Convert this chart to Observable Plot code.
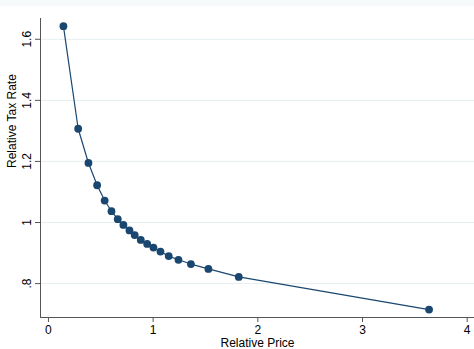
<!DOCTYPE html>
<html>
<head>
<meta charset="utf-8">
<script src="https://cdn.jsdelivr.net/npm/d3@7"></script>
<script src="https://cdn.jsdelivr.net/npm/@observablehq/plot@0.6"></script>
<style>
  html, body { margin: 0; padding: 0; background: #fff; }
  #chart svg { display: block; }
</style>
</head>
<body>
<div id="chart"></div>
<script>
const relativePrice = [0.143, 0.284, 0.382, 0.465, 0.537, 0.602, 0.662, 0.716, 0.774, 0.824,
                       0.882, 0.943, 1.003, 1.070, 1.149, 1.242, 1.361, 1.528, 1.818, 3.636];
const relativeTaxRate = [1.643, 1.307, 1.195, 1.122, 1.072, 1.037, 1.011, 0.992, 0.974, 0.959,
                         0.943, 0.930, 0.918, 0.905, 0.890, 0.878, 0.864, 0.848, 0.822, 0.715];
const xTicks = [0, 1, 2, 3, 4];
const yTicks = [0.8, 1, 1.2, 1.4, 1.6];
const yTickLabels = [".8", "1", "1.2", "1.4", "1.6"];

const data = relativePrice.map((x, i) => ({x, y: relativeTaxRate[i]}));
const yTickData = yTicks.map((v, i) => ({v, label: yTickLabels[i]}));
const navy = "#1a476f";

const chart = Plot.plot({
  width: 474,
  height: 349,
  marginLeft: 40,
  marginRight: 0,
  marginTop: 18,
  marginBottom: 32,
  style: {
    fontFamily: "'Liberation Sans', Arial, sans-serif", fontSize: "12px", color: "#000",
    background: "linear-gradient(#f7fafb 0px, #f7fafb 6px, #ffffff 6px)"
  },
  x: {domain: [-0.076, 4.07]},
  y: {domain: [0.689, 1.668]},
  marks: [
    Plot.gridY(yTicks, {stroke: "#e6eef0", strokeOpacity: 1, strokeWidth: 1}),
    Plot.axisY(yTicks, {tickSize: 5, tickFormat: () => "", stroke: "#555", label: null}),
    Plot.text(yTickData, {
      y: "v", text: "label", frameAnchor: "left", dx: -13.5, rotate: -90,
      textAnchor: "middle", fontSize: 12, fill: "#000"
    }),
    Plot.axisX(xTicks, {
      tickFormat: (d) => String(d),
      tickSize: 5, tickPadding: 3, stroke: "#555",
      fontSize: 12, label: null
    }),
    Plot.frame({anchor: "left", stroke: "#555"}),
    Plot.frame({anchor: "bottom", stroke: "#555"}),
    Plot.line(data, {x: "x", y: "y", stroke: navy, strokeWidth: 1.2}),
    Plot.dot(data, {x: "x", y: "y", r: 3.9, fill: navy, stroke: "none"}),
    Plot.text(["Relative Price"], {frameAnchor: "bottom", dy: 29, lineAnchor: "bottom", fontSize: 12, fill: "#000"}),
    Plot.text(["Relative Tax Rate"], {frameAnchor: "left", dx: -28, rotate: -90, fontSize: 12, fill: "#000"})
  ]
});
document.getElementById("chart").appendChild(chart);
</script>
</body>
</html>
